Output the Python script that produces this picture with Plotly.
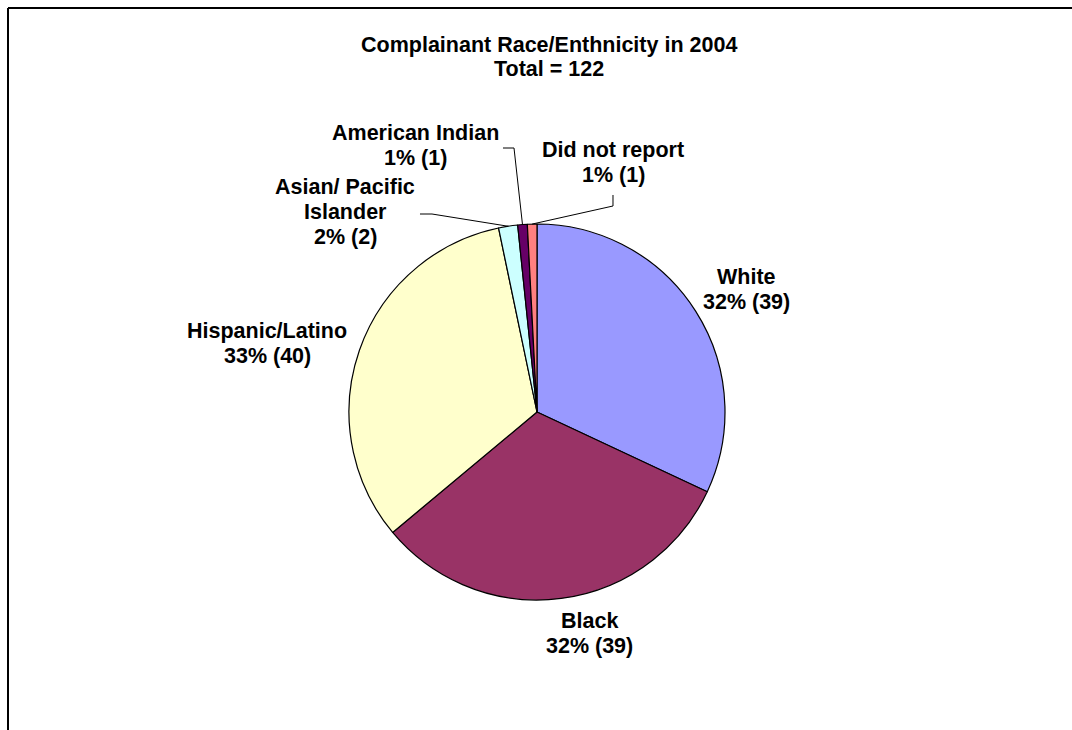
import math
import plotly.graph_objects as go

# ---------------- data ----------------
categories = ["White", "Black", "Hispanic/Latino", "Asian/ Pacific Islander",
              "American Indian", "Did not report"]
counts = [39, 39, 40, 2, 1, 1]
colors = ["#9999FF", "#993366", "#FFFFCC", "#CCFFFF", "#660066", "#FF8080"]
label_lines = [["White"], ["Black"], ["Hispanic/Latino"], ["Asian/ Pacific", "Islander"],
               ["American Indian"], ["Did not report"]]
title_lines = ["Complainant Race/Enthnicity in 2004", "Total = 122"]

# ---------------- layout constants (pixels) ----------------
W, H = 1072, 730
CX, CY, R = 537, 412, 188
FONT = dict(family="Liberation Sans, Arial, sans-serif", size=21.5, color="#000000")
LABEL_SPACING = 25
TITLE_SPACING = 24
title_pos = (549, 45)
label_pos = [(746, 277), (589, 621), (267, 331), (345, 187), (415, 133), (613, 150)]
leader_elbows = {3: [(420, 214), (432, 214)],
                 4: [(503, 148), (514, 148)],
                 5: [(613, 195), (613, 206)]}


def px(x):
    return x / W


def py(y):
    return 1 - y / H


total = sum(counts)

fig = go.Figure(go.Pie(
    labels=categories,
    values=counts,
    sort=False,
    direction="clockwise",
    rotation=0,
    marker=dict(colors=colors, line=dict(color="#000000", width=1.2)),
    textinfo="none",
    hoverinfo="skip",
    showlegend=False,
    domain=dict(x=[px(CX - R), px(CX + R)], y=[py(CY + R), py(CY - R)]),
))

annotations = []


def add_lines(lines, x, y0, spacing):
    for i, t in enumerate(lines):
        annotations.append(dict(
            text=t, x=px(x), y=py(y0 + i * spacing), xref="paper", yref="paper",
            xanchor="center", yanchor="middle", showarrow=False,
            font=FONT))


add_lines(["<b>%s</b>" % t for t in title_lines], title_pos[0], title_pos[1], TITLE_SPACING)

for i, (lines, cnt) in enumerate(zip(label_lines, counts)):
    pct = round(cnt / total * 100)
    all_lines = lines + ["%d%% (%d)" % (pct, cnt)]
    add_lines(["<b>%s</b>" % t for t in all_lines], label_pos[i][0], label_pos[i][1], LABEL_SPACING)

shapes = []
# leader lines for the small slices: from label elbow to the slice's mid-angle on the rim
cum = 0
for i, cnt in enumerate(counts):
    mid = (cum + cnt / 2) / total * 2 * math.pi
    cum += cnt
    if i in leader_elbows:
        ex = CX + R * math.sin(mid)
        ey = CY - R * math.cos(mid)
        pts = leader_elbows[i] + [(ex, ey)]
        path = "M " + " L ".join("%f,%f" % (px(a), py(b)) for a, b in pts)
        shapes.append(dict(type="path", path=path, xref="paper", yref="paper",
                           line=dict(color="#000000", width=1)))

# chart frame (top and left edges visible)
shapes.append(dict(type="line", xref="paper", yref="paper", x0=px(8), y0=py(8), x1=1.0, y1=py(8),
                   line=dict(color="#000000", width=2)))
shapes.append(dict(type="line", xref="paper", yref="paper", x0=px(8), y0=py(8), x1=px(8), y1=0.0,
                   line=dict(color="#000000", width=2)))

fig.update_layout(
    width=W, height=H, autosize=False,
    margin=dict(l=0, r=0, t=0, b=0),
    paper_bgcolor="#FFFFFF", plot_bgcolor="#FFFFFF",
    annotations=annotations, shapes=shapes,
    showlegend=False,
)

fig.write_html("out.html")
